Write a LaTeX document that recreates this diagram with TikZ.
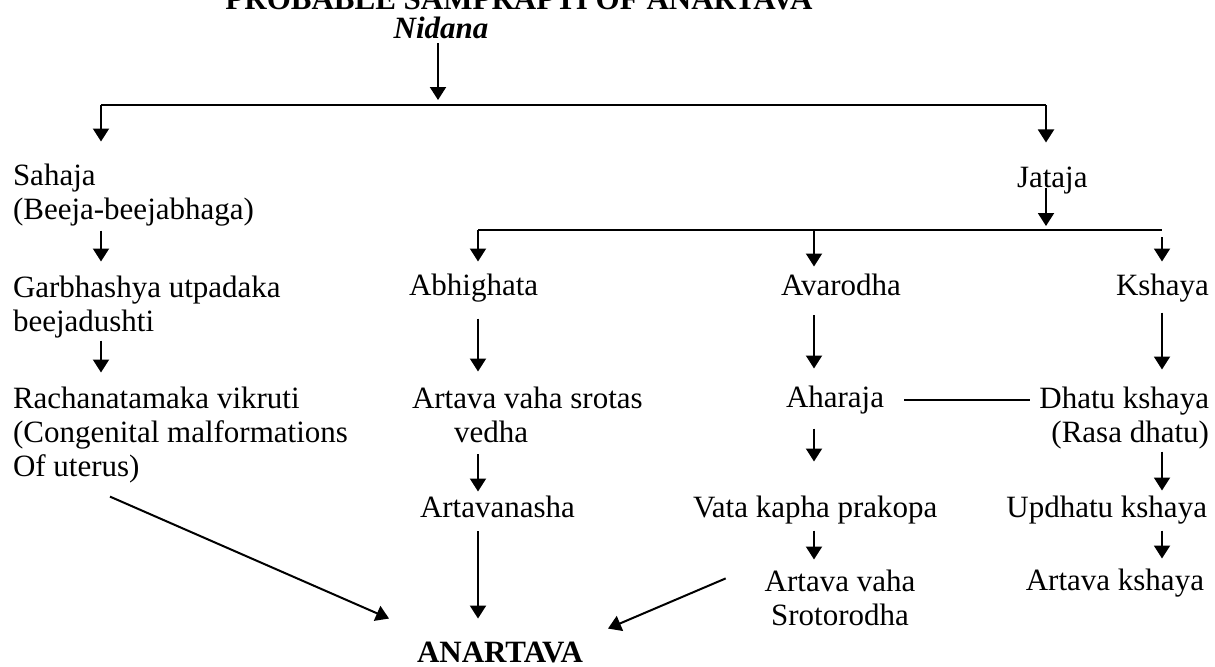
\documentclass[tikz,border=0pt]{standalone}
\usepackage{fontspec}
\setmainfont{Liberation Serif}
\usetikzlibrary{arrows.meta}

\begin{document}
\begin{tikzpicture}[x=0.5pt, y=-0.5pt, line width=1pt,
    every node/.style={inner sep=0pt, font=\fontsize{15.5}{17}\selectfont},
    lbl/.style={anchor=base west, align=left},
    lbr/.style={anchor=base east, align=right},
    arr/.style={-{Triangle[length=6.5pt, width=8pt]}}]
  \useasboundingbox (0,0) rectangle (1215,666);

  \node[anchor=base, font=\fontsize{15.5}{17}\selectfont\bfseries] (ttl) at (519,9) {PROBABLE SAMPRAPTI OF ANARTAVA};
  \node[anchor=base, font=\fontsize{15.5}{17}\selectfont\bfseries\itshape] (nid) at (441,38) {Nidana};

  \coordinate (t0) at (438,105);
  \coordinate (c1) at (101,105);
  \coordinate (c2) at (1046,105);
  \coordinate (t1) at (1046,230);
  \coordinate (d1) at (478,230);
  \coordinate (d2) at (814,230);
  \coordinate (d3) at (1162,230);

  \node[lbl] (sah) at (12,219) {Sahaja\\(Beeja-beejabhaga)};
  \node[lbl] (garb) at (12,331) {Garbhashya utpadaka\\beejadushti};
  \node[lbl] (rach) at (12,476) {Rachanatamaka vikruti\\(Congenital malformations\\Of uterus)};
  \node[lbl] (jat) at (1016,187) {Jataja};
  \node[lbl] (abh) at (408,295) {Abhighata};
  \node[lbl] (ava) at (780,295) {Avarodha};
  \node[lbl] (ksh) at (1115,295) {Kshaya};
  \node[lbl] (art) at (411,442) {Artava vaha srotas\\\hspace*{21pt}vedha};
  \node[lbl] (aha) at (785,407) {Aharaja};
  \node[lbr] (dha) at (1210,442) {Dhatu kshaya\\(Rasa dhatu)};
  \node[lbl] (artn) at (419,517) {Artavanasha};
  \node[lbl] (vat) at (692,517) {Vata kapha prakopa};
  \node[lbr] (upd) at (1208,517) {Updhatu kshaya};
  \node[anchor=base, align=center] (srot) at (840,625) {Artava vaha\\Srotorodha};
  \node[lbr] (akh) at (1205,590) {Artava kshaya};
  \node[anchor=base, font=\fontsize{15.5}{17}\selectfont\bfseries] (ana) at (500,662) {ANARTAVA};

  \draw[arr, shorten <=2pt, shorten >=2.5pt] (nid.south -| t0) -- (t0);
  \draw (c1) -- (c2);
  \draw[arr, shorten >=10.5pt] (c1) -- (sah.north -| c1);
  \draw[arr, shorten >=11.5pt] (c2) -- (jat.north -| c2);
  \draw[arr, shorten <=2pt, shorten >=6.5pt] (sah.south -| c1) -- (garb.north -| c1);
  \draw[arr, shorten <=1pt, shorten >=6.5pt] (garb.south -| c1) -- (rach.north -| c1);
  \draw[arr, shorten <=0.5pt, shorten >=2pt] (jat.base -| t1) -- (t1);
  \draw (d1) -- (d3);
  \draw[arr, shorten >=5.5pt] (d1) -- (abh.north -| d1);
  \draw[arr, shorten >=3pt] (d2) -- (ava.north -| d2);
  \draw[arr, shorten <=3.5pt, shorten >=5.5pt] (d3) -- (ksh.north -| d3);
  \draw[arr, shorten <=8pt, shorten >=7pt] (abh.south -| d1) -- (art.north -| d1);
  \draw[arr, shorten <=9.5pt, shorten >=8pt] (ava.south -| d2) -- (aha.north -| d2);
  \draw[arr, shorten <=5pt, shorten >=8pt] (ksh.south -| d3) -- (dha.north -| d3);
  \draw[shorten <=9.5pt, shorten >=4pt] (aha.east) -- (aha.east -| dha.west);
  \draw[arr, shorten <=5.5pt, shorten >=1.5pt] (art.south -| d1) -- (artn.north -| d1);
  \draw[arr, shorten <=7pt, shorten >=16.5pt] (aha.south -| d2) -- (vat.north -| d2);
  \draw[arr, shorten <=1pt, shorten >=2pt] (dha.south -| d3) -- (upd.north -| d3);
  \draw[arr, shorten <=6.5pt, shorten >=11pt] (artn.south -| d1) -- (ana.north -| d1);
  \draw[arr, shorten <=3pt, shorten >=4.5pt] (vat.south -| d2) -- (srot.north -| d2);
  \draw[arr, shorten <=3pt, shorten >=4.5pt] (upd.south -| d3) -- (akh.north -| d3);
  \draw[arr] ([xshift=49pt, yshift=-6.5pt]rach.south west) -- ([xshift=-13.5pt, yshift=11pt]ana.north west);
  \draw[arr] ([xshift=-19pt, yshift=9.5pt]srot.west) -- ([xshift=12pt, yshift=6pt]ana.north east);
\end{tikzpicture}
\end{document}
